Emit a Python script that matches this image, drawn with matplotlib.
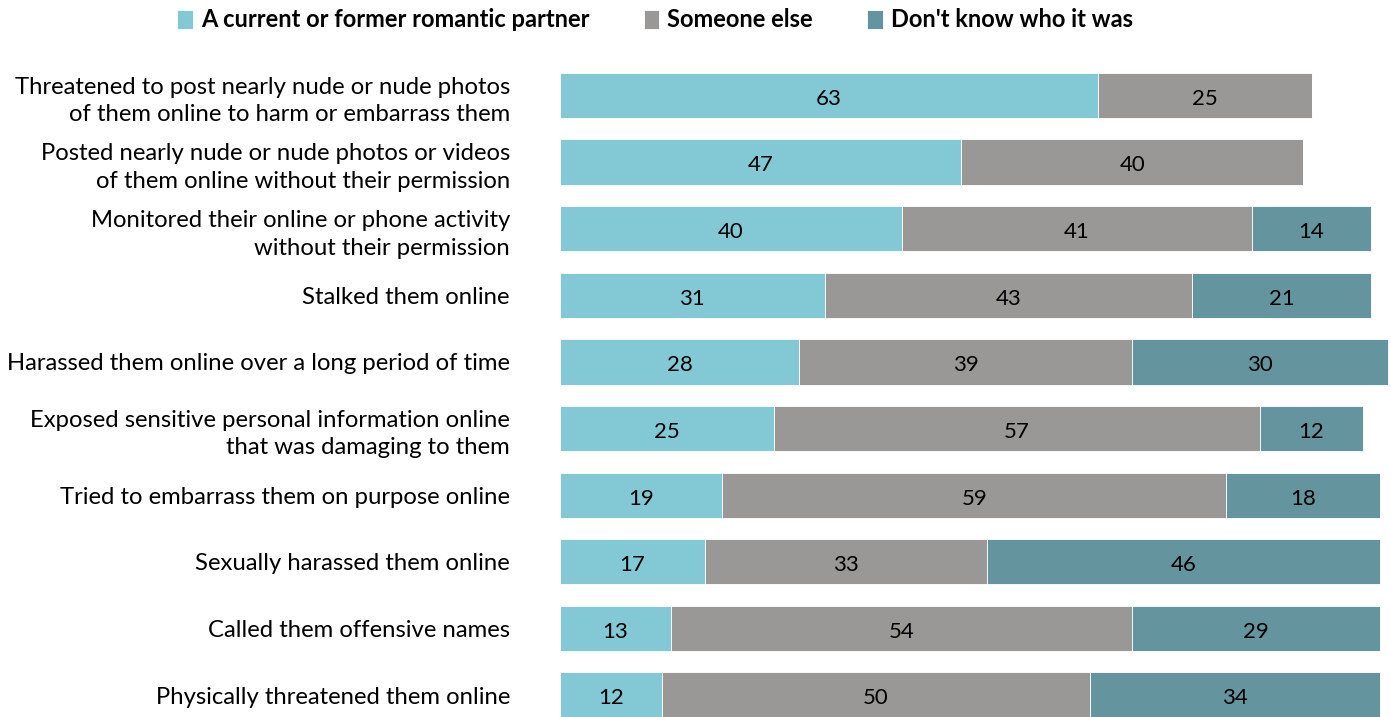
import matplotlib.pyplot as plt
import numpy as np

plt.rcParams['font.family'] = ['Lato', 'DejaVu Sans']

# data
categories = [
    "Threatened to post nearly nude or nude photos\nof them online to harm or embarrass them",
    "Posted nearly nude or nude photos or videos\nof them online without their permission",
    "Monitored their online or phone activity\nwithout their permission",
    "Stalked them online",
    "Harassed them online over a long period of time",
    "Exposed sensitive personal information online\nthat was damaging to them",
    "Tried to embarrass them on purpose online",
    "Sexually harassed them online",
    "Called them offensive names",
    "Physically threatened them online",
]
partner = [63, 47, 40, 31, 28, 25, 19, 17, 13, 12]
someone_else = [25, 40, 41, 43, 39, 57, 59, 33, 54, 50]
dont_know = [0, 0, 14, 21, 30, 12, 18, 46, 29, 34]
series_names = ["A current or former romantic partner", "Someone else", "Don't know who it was"]
colors = ["#82c9d5", "#999896", "#64949e"]

fig = plt.figure(figsize=(13.91, 7.17), dpi=100)
ax = fig.add_axes([560 / 1391, 0, 831 / 1391, 1])

y = np.arange(len(categories))
left = np.zeros(len(categories))
handles = []
for vals, name, col in zip([partner, someone_else, dont_know], series_names, colors):
    vals = np.array(vals)
    b = ax.barh(y, vals, left=left, height=0.68, color=col, edgecolor='white',
                linewidth=0.6, label=name)
    handles.append(b)
    for yi, l, v in zip(y, left, vals):
        if v > 0:
            ax.text(l + v / 2, yi + 0.05, str(v), ha='center', va='center',
                    fontsize=16, color='black')
    left = left + vals

ax.set_xlim(0, 97.3)
ax.set_ylim(9.33, -1.434)
ax.set_yticks(y)
ax.set_yticklabels(categories, fontsize=17.2, linespacing=1.4)
ax.tick_params(axis='y', length=0, pad=36)
ax.set_xticks([])
for s in ax.spines.values():
    s.set_visible(False)

fig.legend(handles=handles, labels=series_names, loc='upper center',
           bbox_to_anchor=(0.471, 1.018), ncol=3, frameon=False,
           handlelength=0.65, handleheight=0.85, handletextpad=0.35,
           columnspacing=2.3, prop={'weight': 'bold', 'size': 17})

fig.savefig('out.png', dpi=100)
